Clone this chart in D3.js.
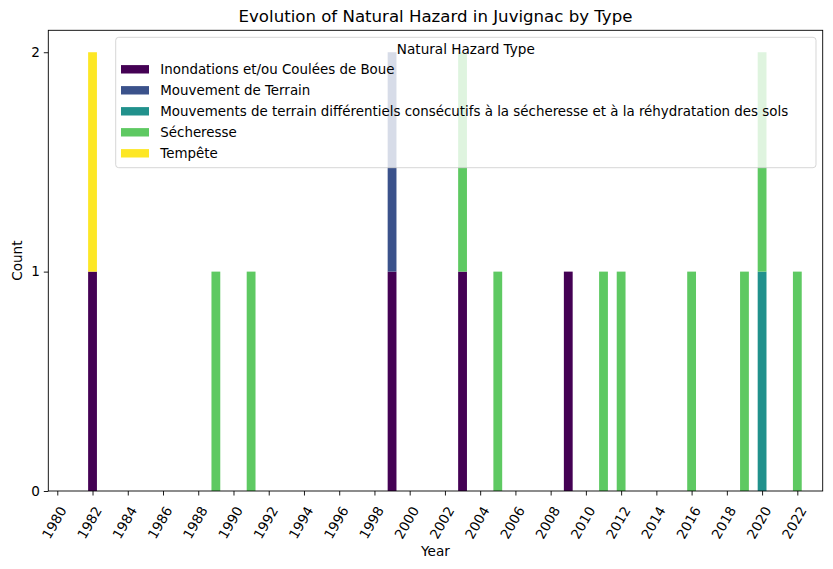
<!DOCTYPE html>
<html>
<head>
<meta charset="utf-8">
<script src="https://cdn.jsdelivr.net/npm/d3@7"></script>
<style>
  body { margin: 0; background: #fff; }
  text { font-family: "DejaVu Sans", sans-serif; fill: #000; }
</style>
</head>
<body>
<div class="stage"></div>
<script>
// chart size
var width = 833;
var height = 569;

// hazard types, in stacking order
var types = [
  'Inondations et/ou Coulées de Boue',
  'Mouvement de Terrain',
  'Mouvements de terrain différentiels consécutifs à la sécheresse et à la réhydratation des sols',
  'Sécheresse',
  'Tempête'
];
var colors = ['#440154', '#3b528b', '#21918c', '#5ec962', '#fde725'];

// years that had at least one event
var years = [1982, 1989, 1991, 1999, 2003, 2005, 2009, 2011, 2012, 2016, 2019, 2020, 2022];

// counts per type, one value per year above
var inondations = [1, 0, 0, 1, 1, 0, 1, 0, 0, 0, 0, 0, 0];
var mouvement   = [0, 0, 0, 1, 0, 0, 0, 0, 0, 0, 0, 0, 0];
var differentiels = [0, 0, 0, 0, 0, 0, 0, 0, 0, 0, 0, 1, 0];
var secheresse  = [0, 1, 1, 0, 1, 1, 0, 1, 1, 1, 1, 1, 1];
var tempete     = [1, 0, 0, 0, 0, 0, 0, 0, 0, 0, 0, 0, 0];

var xTicks = d3.range(1980, 2023, 2);
var yTicks = [0, 1, 2];

var series = [inondations, mouvement, differentiels, secheresse, tempete];

// table for the stack
var rows = years.map(function(yr, i) {
  var r = { year: yr };
  types.forEach(function(t, k) { r[t] = series[k][i]; });
  return r;
});
var stacked = d3.stack().keys(types)(rows);

// plot area
var plotL = 48.3, plotR = 822.7, plotT = 30.3, plotB = 491;
var fs = '13.6px';

var x = d3.scaleLinear().domain([1979.49, 2023.44]).range([plotL, plotR]);
var y = d3.scaleLinear().domain([0, 2.1]).range([plotB, plotT]);
var barW = 0.5;

var svg = d3.select('.stage')
  .append('svg')
  .attr('width', width)
  .attr('height', height);

// BARS
svg.selectAll('g.layer')
  .data(stacked)
  .enter()
  .append('g')
  .attr('class', 'layer')
  .attr('fill', function(d, i) { return colors[i]; })
  .selectAll('rect')
  .data(function(d) { return d.filter(function(p) { return p[1] > p[0]; }); })
  .enter()
  .append('rect')
  .attr('x', function(d) { return x(d.data.year - barW / 2); })
  .attr('width', function(d) { return x(d.data.year + barW / 2) - x(d.data.year - barW / 2); })
  .attr('y', function(d) { return y(d[1]); })
  .attr('height', function(d) { return y(d[0]) - y(d[1]); });

// X AXIS
var xAxis = svg.append('g')
  .attr('transform', 'translate(0,' + plotB + ')')
  .call(d3.axisBottom(x).tickValues(xTicks).tickFormat(d3.format('d')).tickSize(4.5).tickPadding(0));
xAxis.select('.domain').remove();
xAxis.selectAll('line').attr('stroke', '#000').attr('stroke-width', 0.9);
xAxis.selectAll('text')
  .attr('font-size', fs)
  .attr('fill', '#000')
  .attr('text-anchor', 'end')
  .attr('dy', null)
  .attr('y', 0)
  .attr('dominant-baseline', 'central')
  .attr('transform', 'translate(5,16.5) rotate(-60)');

// Y AXIS
var yAxis = svg.append('g')
  .attr('transform', 'translate(' + plotL + ',0)')
  .call(d3.axisLeft(y).tickValues(yTicks).tickFormat(d3.format('d')).tickSize(4.5).tickPadding(4));
yAxis.select('.domain').remove();
yAxis.selectAll('line').attr('stroke', '#000').attr('stroke-width', 0.9);
yAxis.selectAll('text').attr('font-size', fs).attr('fill', '#000');

// frame
svg.append('rect')
  .attr('x', plotL).attr('y', plotT)
  .attr('width', plotR - plotL).attr('height', plotB - plotT)
  .attr('fill', 'none').attr('stroke', '#000').attr('stroke-width', 0.9);

// TITLES
svg.append('text')
  .attr('x', (plotL + plotR) / 2).attr('y', 22)
  .attr('text-anchor', 'middle').attr('font-size', '16.6px')
  .text('Evolution of Natural Hazard in Juvignac by Type');
svg.append('text')
  .attr('x', (plotL + plotR) / 2).attr('y', 556)
  .attr('text-anchor', 'middle').attr('font-size', fs)
  .text('Year');
svg.append('text')
  .attr('transform', 'translate(22,' + ((plotT + plotB) / 2) + ') rotate(-90)')
  .attr('text-anchor', 'middle').attr('font-size', fs)
  .text('Count');

// LEGEND
var lg = svg.append('g').attr('class', 'legend');
lg.append('rect')
  .attr('x', 115.7).attr('y', 37.3)
  .attr('width', 816 - 115.7).attr('height', 167.7 - 37.3)
  .attr('rx', 3)
  .attr('fill', '#fff').attr('fill-opacity', 0.8)
  .attr('stroke', '#cccccc').attr('stroke-opacity', 0.8).attr('stroke-width', 1);
lg.append('text')
  .attr('x', (115.7 + 816) / 2).attr('y', 54)
  .attr('text-anchor', 'middle').attr('font-size', fs)
  .text('Natural Hazard Type');
var item = lg.selectAll('g.item')
  .data(types)
  .enter()
  .append('g')
  .attr('class', 'item')
  .attr('transform', function(d, i) { return 'translate(0,' + (69.3 + i * 21) + ')'; });
item.append('rect')
  .attr('x', 121).attr('y', -4.2)
  .attr('width', 28).attr('height', 8.4)
  .attr('fill', function(d, i) { return colors[i]; });
item.append('text')
  .attr('x', 160.3).attr('y', 0)
  .attr('dominant-baseline', 'central')
  .attr('font-size', '13.4px')
  .text(function(d) { return d; });
</script>
</body>
</html>
